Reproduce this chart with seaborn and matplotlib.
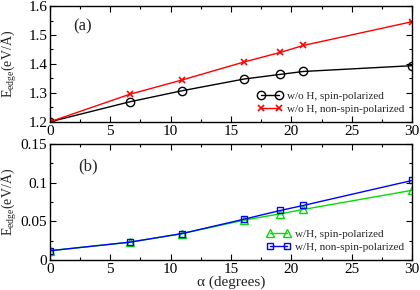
import matplotlib
matplotlib.use("Agg")
import matplotlib.pyplot as plt
from matplotlib.ticker import MultipleLocator
import seaborn as sns
import pandas as pd

alpha = [0, 6.6, 10.9, 16.1, 19.1, 21.0, 30]
woH_spin = [1.200, 1.269, 1.307, 1.348, 1.364, 1.374, 1.394]
woH_nonspin = [1.200, 1.295, 1.344, 1.407, 1.440, 1.464, 1.546]
wH_spin = [0.012, 0.023, 0.034, 0.0515, 0.0597, 0.0653, 0.090]
wH_nonspin = [0.012, 0.023, 0.034, 0.0528, 0.064, 0.0705, 0.1027]

labels_a = ["w/o H, spin-polarized", "w/o H, non-spin-polarized"]
labels_b = ["w/H, spin-polarized", "w/H, non-spin-polarized"]

sns.set_theme(style="ticks")
plt.rcParams['font.family'] = ['Liberation Serif', 'DejaVu Serif']
plt.rcParams['mathtext.fontset'] = 'custom'
plt.rcParams['mathtext.rm'] = 'Liberation Serif'

fig = plt.figure(figsize=(4.2, 2.9), dpi=100)
ax1 = fig.add_axes([0.119, 0.580, 0.862, 0.399])
ax2 = fig.add_axes([0.119, 0.1034, 0.862, 0.4006])

df_a1 = pd.DataFrame({"x": alpha, "y": woH_spin})
df_a2 = pd.DataFrame({"x": alpha, "y": woH_nonspin})
df_b1 = pd.DataFrame({"x": alpha, "y": wH_spin})
df_b2 = pd.DataFrame({"x": alpha, "y": wH_nonspin})

sns.lineplot(data=df_a1, x="x", y="y", ax=ax1, color="black", marker="o",
             markersize=6, markerfacecolor="none", markeredgecolor="black",
             markeredgewidth=1.0, linewidth=1.0, label=labels_a[0])
sns.lineplot(data=df_a2, x="x", y="y", ax=ax1, color="red", marker="x",
             markersize=5, markeredgecolor="red", markeredgewidth=1.2,
             linewidth=1.0, label=labels_a[1])

sns.lineplot(data=df_b1, x="x", y="y", ax=ax2, color="#00e000", marker="^",
             markersize=5.5, markerfacecolor="none", markeredgecolor="#00e000",
             markeredgewidth=1.0, linewidth=1.0, label=labels_b[0])
sns.lineplot(data=df_b2, x="x", y="y", ax=ax2, color="#0000ff", marker="s",
             markersize=5, markerfacecolor="none", markeredgecolor="#0000ff",
             markeredgewidth=1.0, linewidth=1.0, label=labels_b[1])

ax1.set_xlim(0, 30)
ax1.set_ylim(1.2, 1.6)
ax2.set_xlim(0, 30)
ax2.set_ylim(0, 0.15)

ax1.xaxis.set_major_locator(MultipleLocator(5))
ax1.xaxis.set_minor_locator(MultipleLocator(2.5))
ax1.yaxis.set_minor_locator(MultipleLocator(0.05))
ax2.xaxis.set_major_locator(MultipleLocator(5))
ax2.xaxis.set_minor_locator(MultipleLocator(2.5))
ax2.yaxis.set_minor_locator(MultipleLocator(0.025))

ax1.set_yticks([1.2, 1.3, 1.4, 1.5, 1.6])
ax1.set_yticklabels(["1.2", "1.3", "1.4", "1.5", "1.6"])
ax2.set_yticks([0, 0.05, 0.1, 0.15])
ax2.set_yticklabels(["0", "0.05", "0.1", "0.15"])

for ax in (ax1, ax2):
    ax.tick_params(which="both", direction="in", top=True, right=True,
                   labelsize=11, pad=2, colors="black")
    ax.tick_params(which="major", length=4, width=0.8)
    ax.tick_params(which="minor", length=2, width=0.8)
    for s in ax.spines.values():
        s.set_linewidth(1.0)
        s.set_color("black")
    ax.set_ylabel(r"E$_{\rm edge}$(eV/Å)", fontsize=10)
    ax.yaxis.set_label_coords(-0.086, 0.5)
    ax.legend(loc="lower right", frameon=False, fontsize=8, numpoints=2,
              handlelength=2.2, handletextpad=0.4, borderaxespad=0.3,
              labelspacing=0.3)

ax1.set_xlabel("")
ax2.set_xlabel("α (degrees)", fontsize=11, labelpad=0)

ax1.text(0.065, 0.79, "(a)", transform=ax1.transAxes, fontsize=12)
ax2.text(0.078, 0.77, "(b)", transform=ax2.transAxes, fontsize=12)

fig.savefig("out.png", dpi=100)
